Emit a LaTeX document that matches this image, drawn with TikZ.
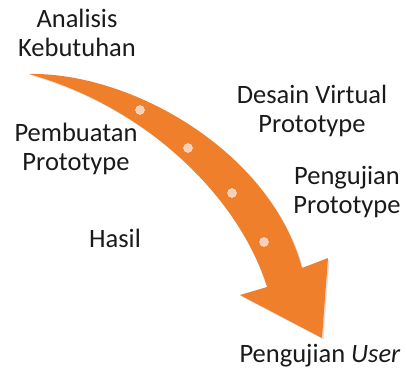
\documentclass[tikz,border=0pt]{standalone}
\usepackage{fontspec}
\setmainfont{Carlito}
\usepackage{xcolor}
\usepackage{tikz}
\usetikzlibrary{positioning,shadows}
\definecolor{flame}{HTML}{EF7F2A}
\definecolor{pearl}{HTML}{F9CFBA}
\definecolor{ink}{HTML}{1A1A1A}
\tikzset{
  font=\fontsize{26.5}{29}\selectfont,
  phase/.style = {align=center, text=ink, inner sep=0pt, anchor=base},
  bead/.style  = {circle, fill=pearl, draw=white!60!pearl, line width=0.4pt,
                  minimum size=9pt, inner sep=0pt},
  band/.style  = {fill=flame, draw=none,
                  drop shadow={opacity=0.25, shadow xshift=1.5pt, shadow yshift=-1.5pt}},
}

\begin{document}
\begin{tikzpicture}[x=1pt, y=-1pt]
\useasboundingbox (0,0) rectangle (407,369);

% ---------------- the curved arrow ------------------------------------
\coordinate (tail) at (29,74);
\coordinate (outer) at (302,268);
\coordinate (inner) at (267,287);
\coordinate (barbR) at (328,258);
\coordinate (barbL) at (240,295);
\coordinate (tip) at (322,338);

\path[band] (tail) .. controls (130,72) and (270,150) .. (outer)
  -- (barbR) -- (tip) -- (barbL) -- (inner)
  .. controls (240,200) and (150,108) .. (tail) -- cycle;

\node[bead] (b1) at (140,110) {};
\node[bead] (b2) at (188,148) {};
\node[bead] (b3) at (232,193) {};
\node[bead] (b4) at (264,242) {};

% ---------------- phase labels (base = last line) ---------------------
\node[phase] (analisis) at (77,57) {Analisis\\Kebutuhan};
\node[phase] (buat) at (76,170) {Pembuatan\\Prototype};
\node[phase] (desain) at (312,132) {Desain Virtual\\Prototype};
\node[phase] (uji) at (347,213) {Pengujian\\Prototype};
\node[phase] (hasil) at (115,247) {Hasil};
\node[phase] (user) at (320,362) {Pengujian \textit{User}};

\end{tikzpicture}
\end{document}
